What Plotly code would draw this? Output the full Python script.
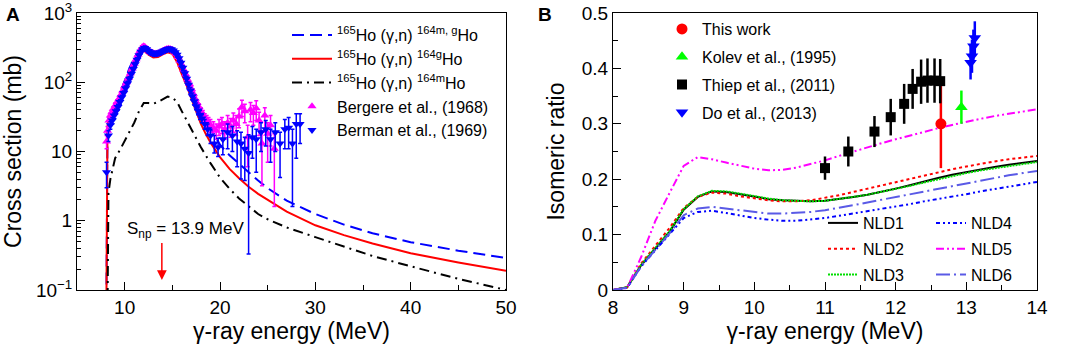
import math
import plotly.graph_objects as go

# ---------------- Panel A data ----------------
E_calc = [8.0, 8.1, 8.15, 8.2, 8.3, 8.5, 9.0, 9.5, 10.0, 10.5, 11.0, 11.5, 12.0, 12.5, 13.0,
          13.5, 14.0, 14.5, 15.0, 15.5, 16.0, 16.5, 17.0, 17.5, 18.0, 18.5, 19.0, 20.0, 21.0,
          22.0, 23.0, 24.0, 25.0, 27.0, 30.0, 33.0, 36.0, 40.0, 45.0, 50.0]
sig_total = [0.001, 1.0, 12, 25, 30, 35, 45, 70, 108, 160, 225, 285, 315, 275, 250,
             255, 275, 295, 285, 225, 160, 120, 85, 58, 40, 29, 22, 12.5, 8.8,
             6.6, 5.0, 3.8, 2.95, 1.95, 1.25, 0.88, 0.66, 0.49, 0.37, 0.29]
sig_ground = [0.001, 1.0, 11, 23, 28, 32, 41, 63, 98, 145, 205, 260, 290, 250, 228,
              232, 252, 270, 258, 195, 130, 90, 58, 37, 25, 18, 13.5, 8.3, 5.6,
              4.1, 3.1, 2.45, 2.0, 1.35, 0.86, 0.62, 0.47, 0.34, 0.25, 0.19]
sig_meta = [0.001, 0.001, 0.001, 0.05, 2.5, 4.0, 8.0, 10.5, 14, 19, 26, 38, 50, 50, 49,
            52, 57, 62, 60, 52, 38, 28, 20, 15.5, 11.5, 8.8, 6.8, 4.2, 2.9,
            2.1, 1.6, 1.25, 1.05, 0.8, 0.58, 0.42, 0.31, 0.22, 0.145, 0.1]

E_berg = [8.1, 8.2, 8.35, 8.5, 8.65, 8.8, 9.0, 9.2, 9.4, 9.6, 9.8, 10.0, 10.2, 10.4, 10.6,
          10.8, 11.0, 11.2, 11.4, 11.6, 11.8, 12.0, 12.2, 12.4, 12.6, 12.8, 13.0, 13.2, 13.4,
          13.6, 13.8, 14.0, 14.2, 14.4, 14.6, 14.8, 15.0, 15.2, 15.4, 15.6, 15.8, 16.0, 16.2,
          16.4, 16.6, 16.8, 17.0, 17.2, 17.4, 17.6, 17.8, 18.0, 18.2, 18.4, 18.6, 18.8, 19.0,
          19.3, 19.6, 19.9, 20.2, 20.5, 20.8, 21.1, 21.4, 21.7, 22.0, 22.3, 22.6, 22.9, 23.2,
          23.5, 23.8, 24.1, 24.4, 24.7, 25.0, 25.3, 25.7]
sig_berg = [14, 20, 28, 33, 37, 41, 46, 52, 58, 66, 76, 88, 100, 115, 135,
            158, 185, 215, 250, 285, 315, 330, 315, 295, 278, 268, 262, 258, 260,
            265, 272, 282, 292, 300, 305, 300, 292, 278, 258, 232, 205, 178, 152,
            130, 110, 94, 80, 68, 58, 50, 44, 38, 34, 30, 28, 26, 24,
            22, 20, 23, 25, 21, 26, 23, 28, 25, 32, 44, 38, 16, 40,
            36, 42, 28, 13, 33, 18, 24, 11]
err_berg_up = [3, 3, 3, 3, 3, 3, 4, 4, 5, 5, 6, 7, 8, 9, 10,
               12, 14, 16, 18, 20, 22, 24, 22, 20, 20, 19, 19, 19, 19,
               19, 20, 20, 21, 22, 22, 22, 21, 20, 19, 17, 15, 13, 11,
               10, 9, 8, 7, 6, 6, 5, 5, 5, 5, 5, 5, 5, 5,
               5, 5, 6, 6, 6, 7, 7, 8, 8, 9, 11, 10, 8, 11,
               10, 12, 9, 7, 10, 8, 9, 7]
err_berg_dn = [3, 3, 3, 3, 3, 3, 4, 4, 5, 5, 6, 7, 8, 9, 10,
               12, 14, 16, 18, 20, 22, 24, 22, 20, 20, 19, 19, 19, 19,
               19, 20, 20, 21, 22, 22, 22, 21, 20, 19, 17, 15, 13, 11,
               10, 9, 8, 7, 6, 6, 5, 5, 5, 5, 5, 5, 5, 5,
               5, 5, 6, 7, 6, 8, 7, 9, 8, 10, 12, 12, 10, 13,
               12, 14, 11, 9.8, 14, 11, 12, 9.4]

E_berm = [8.1, 8.3, 8.5, 8.7, 8.9, 9.1, 9.3, 9.5, 9.7, 9.9, 10.1, 10.3, 10.5, 10.7, 10.9,
          11.1, 11.3, 11.5, 11.7, 11.9, 12.1, 12.3, 12.5, 12.7, 12.9, 13.1, 13.3, 13.5, 13.7,
          13.9, 14.1, 14.3, 14.5, 14.7, 14.9, 15.1, 15.3, 15.5, 15.7, 15.9, 16.1, 16.3, 16.5,
          16.7, 16.9, 17.1, 17.3, 17.5, 17.7, 17.9, 18.1, 18.4, 18.7, 19.0, 19.4, 19.8, 20.3,
          20.8, 21.3, 21.8, 22.2, 22.6, 23.0, 23.4, 23.8, 24.3, 24.8, 25.3, 25.8, 26.3, 26.8,
          27.2, 27.6, 28.0, 28.4]
sig_berm = [5, 17, 24, 28, 33, 38, 44, 52, 60, 70, 82, 96, 112, 132, 155,
            182, 212, 245, 275, 300, 312, 300, 282, 270, 262, 258, 258, 262, 268,
            276, 285, 293, 300, 302, 298, 288, 272, 250, 222, 192, 162, 135, 112,
            92, 76, 63, 53, 45, 39, 34, 30, 25, 21, 17, 13, 11.5, 15,
            19, 17, 14, 13, 11, 9.5, 16, 15, 19, 21, 15, 19, 13, 21,
            22, 13, 25, 25]
err_berm_up = [2, 3, 3, 3, 3, 3, 4, 4, 5, 5, 6, 7, 8, 9, 10,
               12, 14, 16, 18, 20, 22, 22, 20, 20, 19, 19, 19, 19, 20,
               20, 21, 22, 22, 22, 22, 21, 20, 19, 17, 15, 13, 11, 10,
               9, 8, 7, 6, 5, 5, 5, 4, 4, 4, 4, 4, 4, 5,
               6, 6, 6, 6, 5, 8, 7, 6, 7, 7, 6, 7, 6, 8,
               9, 8, 10, 10]
err_berm_dn = [2, 3, 3, 3, 3, 3, 4, 4, 5, 5, 6, 7, 8, 9, 10,
               12, 14, 16, 18, 20, 22, 22, 20, 20, 19, 19, 19, 19, 20,
               20, 21, 22, 22, 22, 22, 21, 20, 19, 17, 15, 13, 11, 10,
               9, 8, 7, 6, 5, 5, 5, 4, 4, 4, 4, 3.5, 3, 6,
               8, 7, 8, 9, 7.2, 9.17, 8, 10, 9, 9, 8, 9, 8.8, 10,
               11, 11.4, 17, 12]

S_np = 13.9  # MeV

# ---------------- Panel B data ----------------
E_nld = [8.0, 8.2, 8.4, 8.6, 8.8, 9.0, 9.2, 9.4, 9.6, 9.8, 10.0, 10.2, 10.4, 10.6, 10.8,
         11.0, 11.2, 11.4, 11.6, 11.8, 12.0, 12.2, 12.4, 12.6, 12.8, 13.0, 13.2, 13.4, 13.6,
         13.8, 14.0]
nld1 = [0.0, 0.005, 0.045, 0.075, 0.105, 0.145, 0.168, 0.178, 0.177, 0.173, 0.168, 0.164, 0.162,
        0.161, 0.160, 0.161, 0.164, 0.168, 0.172, 0.177, 0.183, 0.189, 0.196, 0.202, 0.208, 0.213,
        0.218, 0.222, 0.226, 0.230, 0.233]
nld2 = [0.0, 0.005, 0.048, 0.080, 0.112, 0.148, 0.168, 0.176, 0.174, 0.169, 0.165, 0.162, 0.160,
        0.160, 0.162, 0.166, 0.171, 0.177, 0.183, 0.189, 0.195, 0.201, 0.207, 0.213, 0.218, 0.223,
        0.228, 0.232, 0.236, 0.239, 0.242]
nld3 = [0.0, 0.005, 0.046, 0.076, 0.106, 0.146, 0.169, 0.179, 0.178, 0.174, 0.169, 0.165, 0.162,
        0.161, 0.160, 0.161, 0.164, 0.168, 0.172, 0.177, 0.182, 0.188, 0.194, 0.200, 0.206, 0.211,
        0.216, 0.220, 0.224, 0.228, 0.231]
nld4 = [0.0, 0.004, 0.043, 0.072, 0.100, 0.130, 0.141, 0.143, 0.139, 0.134, 0.130, 0.127, 0.125,
        0.125, 0.127, 0.130, 0.134, 0.138, 0.142, 0.146, 0.150, 0.155, 0.160, 0.164, 0.169, 0.173,
        0.178, 0.182, 0.186, 0.190, 0.195]
nld5 = [0.0, 0.004, 0.060, 0.125, 0.175, 0.224, 0.240, 0.236, 0.230, 0.224, 0.219, 0.216, 0.217,
        0.221, 0.227, 0.234, 0.242, 0.250, 0.258, 0.265, 0.272, 0.279, 0.286, 0.292, 0.298, 0.304,
        0.309, 0.314, 0.318, 0.322, 0.326]
nld6 = [0.0, 0.004, 0.043, 0.073, 0.102, 0.135, 0.147, 0.150, 0.147, 0.143, 0.140, 0.138, 0.138,
        0.139, 0.141, 0.144, 0.148, 0.153, 0.158, 0.163, 0.168, 0.173, 0.178, 0.183, 0.188, 0.193,
        0.198, 0.203, 0.207, 0.211, 0.215]

E_this = [12.64]
ir_this = [0.30]
err_this = [0.08]

E_kolev = [12.93]
ir_kolev = [0.33]
err_kolev = [0.03]

E_thiep = [11.0, 11.33, 11.70, 11.93, 12.12, 12.24, 12.36, 12.45, 12.55, 12.63]
ir_thiep = [0.220, 0.250, 0.286, 0.312, 0.336, 0.363, 0.376, 0.378, 0.378, 0.377]
err_thiep = [0.021, 0.027, 0.028, 0.033, 0.036, 0.036, 0.040, 0.040, 0.040, 0.040]

E_do = [13.06, 13.08, 13.10, 13.12]
ir_do = [0.410, 0.422, 0.440, 0.455]
err_do = [0.030, 0.030, 0.030, 0.030]

FONT = "Liberation Sans, Arial, Helvetica, sans-serif"

fig = go.Figure()

# ---- Panel A traces ----
fig.add_trace(go.Scatter(x=E_calc, y=sig_total, mode="lines", xaxis="x", yaxis="y",
                         line=dict(color="#0000ff", width=2, dash="12px,6px"),
                         name="<sup>165</sup>Ho (γ,n) <sup>164m, g</sup>Ho", legend="legend"))
fig.add_trace(go.Scatter(x=E_calc, y=sig_ground, mode="lines", xaxis="x", yaxis="y",
                         line=dict(color="#ff0000", width=2),
                         name="<sup>165</sup>Ho (γ,n) <sup>164g</sup>Ho", legend="legend"))
fig.add_trace(go.Scatter(x=E_calc, y=sig_meta, mode="lines", xaxis="x", yaxis="y",
                         line=dict(color="#000000", width=2, dash="10px,5px,2px,5px"),
                         name="<sup>165</sup>Ho (γ,n) <sup>164m</sup>Ho", legend="legend"))
fig.add_trace(go.Scatter(x=E_berg, y=sig_berg, mode="markers", xaxis="x", yaxis="y",
                         marker=dict(symbol="triangle-up", size=8, color="#ff00ff"),
                         error_y=dict(type="data", array=err_berg_up, arrayminus=err_berg_dn,
                                      color="#ff00ff", thickness=1.5, width=2),
                         name="Bergere et al., (1968)", legend="legend"))
fig.add_trace(go.Scatter(x=E_berm, y=sig_berm, mode="markers", xaxis="x", yaxis="y",
                         marker=dict(symbol="triangle-down", size=8, color="#0000ff"),
                         error_y=dict(type="data", array=err_berm_up, arrayminus=err_berm_dn,
                                      color="#0000ff", thickness=1.5, width=2),
                         name="Berman et al., (1969)", legend="legend"))

# ---- Panel B traces ----
nld_specs = [
    (nld1, "NLD1", "#000000", "solid", "legend3"),
    (nld2, "NLD2", "#ff0000", "3px,3px", "legend3"),
    (nld3, "NLD3", "#00dd00", "2px,1px", "legend3"),
    (nld4, "NLD4", "#0000ff", "4px,3px,2px,3px,2px,3px", "legend4"),
    (nld5, "NLD5", "#ff00ff", "8px,3px,2px,3px,2px,3px", "legend4"),
    (nld6, "NLD6", "#5a5ae6", "14px,4px,2px,4px", "legend4"),
]
for vals, nm, col, dash, lg in nld_specs:
    fig.add_trace(go.Scatter(x=E_nld, y=vals, mode="lines", xaxis="x2", yaxis="y2",
                             line=dict(color=col, width=2, dash=dash), name=nm, legend=lg,
                             legendgroup=nm))

exp_specs = [
    (E_this, ir_this, err_this, "This work", "circle", 11, "#ff0000"),
    (E_kolev, ir_kolev, err_kolev, "Kolev et al., (1995)", "triangle-up", 11, "#00ff00"),
    (E_thiep, ir_thiep, err_thiep, "Thiep et al., (2011)", "square", 10, "#000000"),
    (E_do, ir_do, err_do, "Do et al., (2013)", "triangle-down", 11, "#0000ff"),
]
for ex, ey, ee, nm, sym, sz, col in exp_specs:
    fig.add_trace(go.Scatter(x=ex, y=ey, mode="markers", xaxis="x2", yaxis="y2",
                             marker=dict(symbol=sym, size=sz, color=col),
                             error_y=dict(type="data", array=ee, color=col,
                                          thickness=2.5, width=0),
                             name=nm, legend="legend2", legendgroup=nm))

W, H = 1065, 344
ydom = [1 - 290 / H, 1 - 13 / H]

axis_common = dict(showgrid=False, zeroline=False, showline=True, linecolor="black",
                   linewidth=1, mirror=True, ticks="inside", tickcolor="black",
                   ticklen=8, tickwidth=1, automargin=False, ticklabeloverflow="allow",
                   tickfont=dict(family=FONT, size=19, color="black"),
                   title_font=dict(family=FONT, size=23, color="black"))

minor_log = [m * 10 ** k for k in range(-1, 3) for m in range(2, 10)]

fig.update_layout(
    width=W, height=H, margin=dict(l=0, r=0, t=0, b=0, autoexpand=False),
    paper_bgcolor="white", plot_bgcolor="white",
    font=dict(family=FONT, color="black"),
    xaxis=dict(axis_common, domain=[77 / W, 506 / W], range=[5, 50], dtick=10, tick0=0,
               minor=dict(dtick=5, ticklen=5, ticks="inside", tickcolor="black"),
               title=dict(text="γ-ray energy (MeV)", standoff=2), anchor="y"),
    yaxis=dict(axis_common, domain=ydom, type="log", range=[-1, 3],
               tickvals=[0.1, 1, 10, 100, 1000],
               ticktext=["10<sup>−1</sup>", "1", "10", "10<sup>2</sup>", "10<sup>3</sup>"],
               minor=dict(tickmode="array", tickvals=minor_log, ticklen=4, ticks="inside",
                          tickcolor="black"),
               title=dict(text="Cross section (mb)", standoff=8), anchor="x"),
    xaxis2=dict(axis_common, domain=[613 / W, 1037 / W], range=[8, 14], dtick=1, tick0=8,
                minor=dict(dtick=0.5, ticklen=5, ticks="inside", tickcolor="black"),
                title=dict(text="γ-ray energy (MeV)", standoff=2), anchor="y2"),
    yaxis2=dict(axis_common, domain=ydom, range=[0, 0.5], dtick=0.1, tick0=0,
                tickformat="~g",
                minor=dict(dtick=0.05, ticklen=5, ticks="inside", tickcolor="black"),
                title=dict(text="Isomeric ratio", standoff=10), anchor="x2"),
    legend=dict(x=287 / W, y=1 - 18 / H, xanchor="left", yanchor="top",
                bgcolor="rgba(0,0,0,0)", font=dict(family=FONT, size=16, color="black"),
                itemwidth=40, tracegroupgap=0),
    legend2=dict(x=662 / W, y=1 - 12 / H, xanchor="left", yanchor="top",
                 bgcolor="rgba(0,0,0,0)", font=dict(family=FONT, size=16, color="black"),
                 itemwidth=30, traceorder="grouped", tracegroupgap=4),
    legend3=dict(x=823 / W, y=1 - 206 / H, xanchor="left", yanchor="top",
                 bgcolor="rgba(0,0,0,0)", font=dict(family=FONT, size=16, color="black"),
                 itemwidth=30, traceorder="grouped", tracegroupgap=2),
    legend4=dict(x=931 / W, y=1 - 206 / H, xanchor="left", yanchor="top",
                 bgcolor="rgba(0,0,0,0)", font=dict(family=FONT, size=16, color="black"),
                 itemwidth=30, traceorder="grouped", tracegroupgap=2),
    showlegend=True,
)

fig.add_annotation(x=S_np, y=math.log10(0.14), xref="x", yref="y",
                   ax=S_np, ay=math.log10(0.5), axref="x", ayref="y",
                   showarrow=True, arrowhead=2, arrowsize=1.3, arrowwidth=1.5,
                   arrowcolor="#ff0000", text="")
fig.add_annotation(x=10.0, y=math.log10(0.74), xref="x", yref="y", xanchor="left",
                   text="S<sub>np</sub> = 13.9 MeV", showarrow=False,
                   font=dict(family=FONT, size=17, color="black"))
fig.add_annotation(x=4 / W, y=1 - 2 / H, xref="paper", yref="paper", xanchor="left",
                   yanchor="top", text="<b>A</b>", showarrow=False,
                   font=dict(family=FONT, size=19, color="black"))
fig.add_annotation(x=536 / W, y=1 - 2 / H, xref="paper", yref="paper", xanchor="left",
                   yanchor="top", text="<b>B</b>", showarrow=False,
                   font=dict(family=FONT, size=19, color="black"))

fig.write_html("out.html", config={"displayModeBar": False},
               post_script="document.body.style.margin='0px';"
                           "document.body.style.overflow='hidden';")
